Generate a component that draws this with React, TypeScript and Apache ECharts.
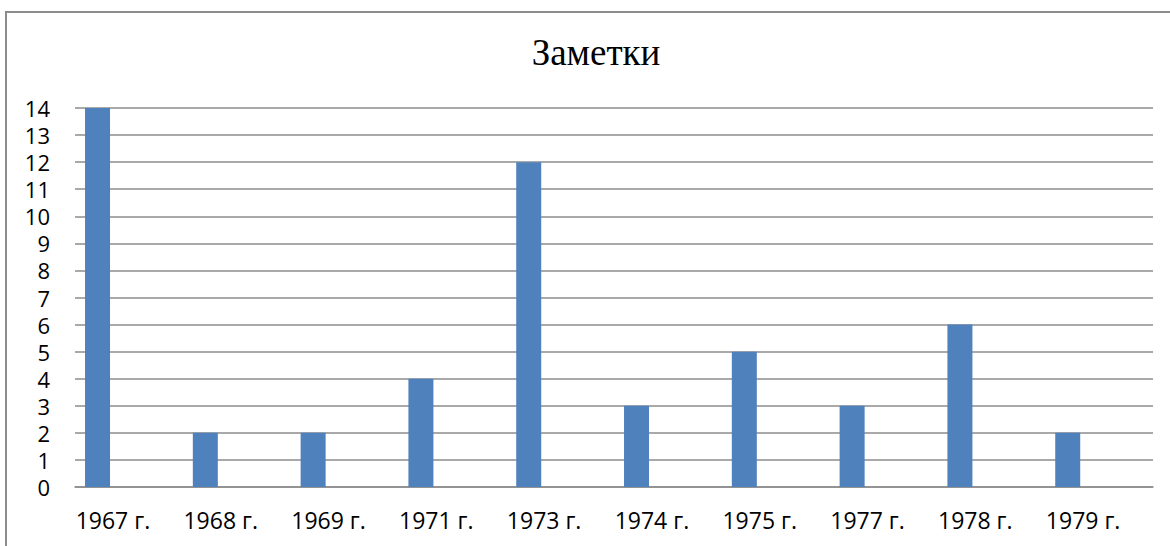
import React, { useEffect, useRef } from "react";
import * as echarts from "echarts";

const categories = ["1967 г.", "1968 г.", "1969 г.", "1971 г.", "1973 г.", "1974 г.", "1975 г.", "1977 г.", "1978 г.", "1979 г."];
const values = [14, 2, 2, 4, 12, 3, 5, 3, 6, 2];
const emptyValues = categories.map(() => null);
const titleText = "Заметки";

export default function App() {
  const ref = useRef<HTMLDivElement>(null);
  useEffect(() => {
    if (!ref.current) return;
    const chart = echarts.init(ref.current, null, { renderer: "svg" });
    chart.setOption({
      animation: false,
      backgroundColor: "#ffffff",
      title: {
        text: titleText,
        left: 591,
        top: 29,
        textAlign: "center",
        textStyle: {
          fontFamily: "'Liberation Serif', 'Times New Roman', serif",
          fontSize: 37,
          fontWeight: "normal",
          color: "#000000",
        },
      },
      graphic: [
        {
          type: "polyline",
          shape: { points: [[6, 546], [6, 12], [1170, 12]] },
          style: { stroke: "#8c8c8c", lineWidth: 2, fill: "none" },
          silent: true,
        },
      ],
      grid: { left: 75, right: 17, top: 108, bottom: 59 },
      xAxis: {
        type: "category",
        data: categories,
        axisLine: { show: true, lineStyle: { color: "#8c8c8c", width: 1.5 } },
        axisTick: { show: false },
        axisLabel: {
          fontFamily: "'Open Sans', sans-serif",
          fontSize: 23,
          color: "#000000",
          margin: 21,
          padding: [0, 32, 0, 0],
        },
      },
      yAxis: {
        type: "value",
        min: 0,
        max: 14,
        interval: 1,
        axisLine: { show: false },
        axisTick: { show: false },
        splitLine: { show: true, lineStyle: { color: "#8c8c8c", width: 1.5 } },
        axisLabel: {
          fontFamily: "'Open Sans', sans-serif",
          fontSize: 22,
          color: "#000000",
          margin: 25,
        },
      },
      series: [
        {
          type: "bar",
          data: values,
          barWidth: 25,
          barGap: "151%",
          itemStyle: { color: "#4f81bd" },
        },
        {
          type: "bar",
          data: emptyValues,
          barWidth: 25,
          itemStyle: { color: "transparent" },
        },
      ],
    });
    return () => chart.dispose();
  }, []);
  return (
    <div
      ref={ref}
      style={{ position: "fixed", left: 0, top: 0, width: 1170, height: 546 }}
    />
  );
}
